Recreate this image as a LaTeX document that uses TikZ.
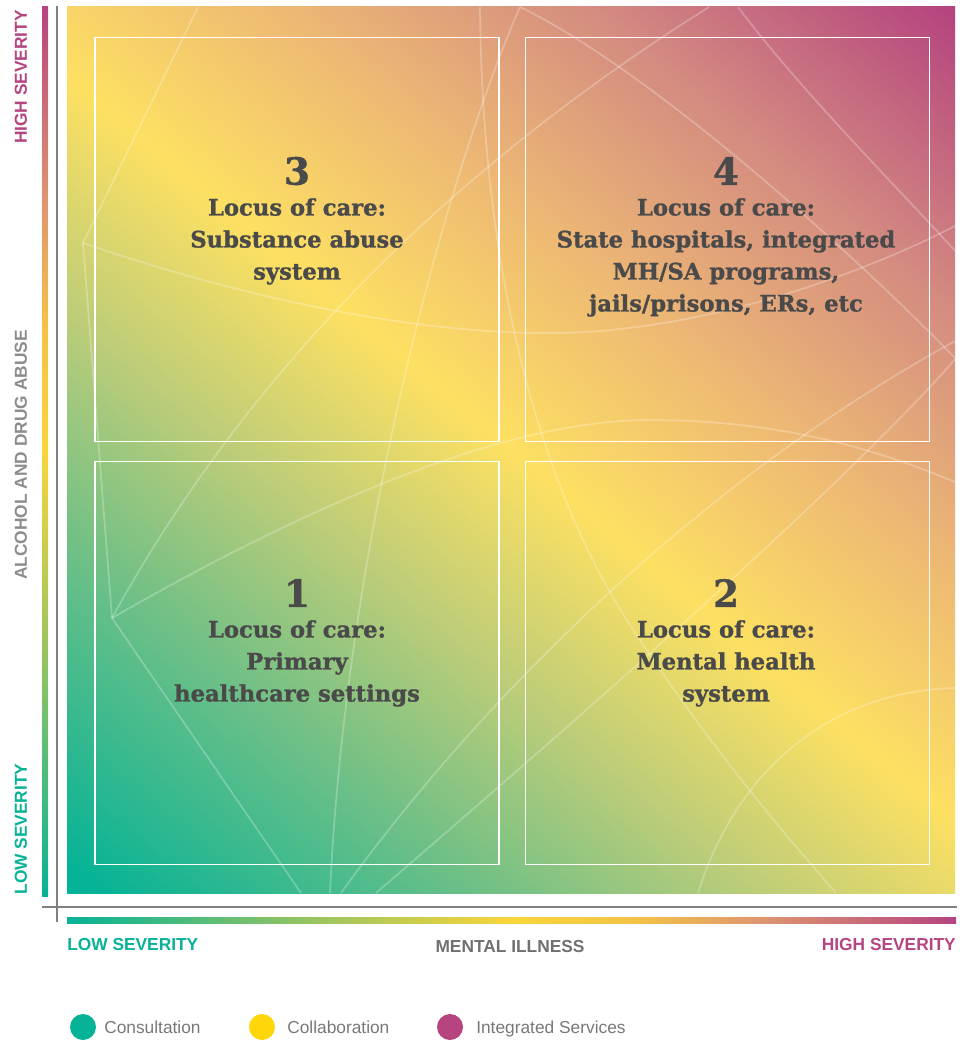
\documentclass[tikz,border=0pt]{standalone}
\usepackage{fontspec}
\setmainfont{Liberation Sans}
\newfontfamily\slabfont[BoldFeatures={FakeBold=1.2}]{DejaVu Serif}
\usetikzlibrary{positioning}

\definecolor{sevteal}{RGB}{6,179,150}
\definecolor{sevgreen}{RGB}{112,192,134}
\definecolor{sevlime}{RGB}{190,205,120}
\definecolor{sevyellow}{RGB}{253,224,98}
\definecolor{sevpeach}{RGB}{237,184,116}
\definecolor{sevrose}{RGB}{212,140,128}
\definecolor{sevmagenta}{RGB}{181,68,127}
\definecolor{barlime}{RGB}{155,196,95}
\definecolor{baryellow}{RGB}{249,213,58}
\definecolor{barorange}{RGB}{244,194,70}
\definecolor{barpeach}{RGB}{222,150,112}
\definecolor{legyellow}{RGB}{255,214,10}
\definecolor{textgrey}{RGB}{74,74,74}
\definecolor{labelgrey}{RGB}{112,112,112}
\definecolor{sidegrey}{RGB}{140,140,140}
\definecolor{axisgrey}{RGB}{128,128,128}
\definecolor{leggrey}{RGB}{120,120,120}

% severity scale: teal -> yellow -> magenta
\pgfdeclareverticalshading{sevsquare}{100bp}{color(0bp)=(sevteal); color(16bp)=(sevteal); color(30bp)=(sevgreen); color(40bp)=(sevlime); color(50bp)=(sevyellow); color(61bp)=(sevpeach); color(72bp)=(sevrose); color(85bp)=(sevmagenta); color(100bp)=(sevmagenta)}
\pgfdeclareverticalshading{sevbarv}{100bp}{color(0bp)=(sevteal); color(25bp)=(sevteal); color(39bp)=(barlime); color(50bp)=(baryellow); color(57bp)=(barorange); color(64bp)=(barpeach); color(75bp)=(sevmagenta); color(100bp)=(sevmagenta)}
\pgfdeclarehorizontalshading{sevbarh}{100bp}{color(0bp)=(sevteal); color(25bp)=(sevteal); color(39bp)=(barlime); color(50bp)=(baryellow); color(57bp)=(barorange); color(64bp)=(barpeach); color(75bp)=(sevmagenta); color(100bp)=(sevmagenta)}

\begin{document}
\begin{tikzpicture}[x=0.75pt,y=0.75pt,yscale=-1,xscale=1,
    quad/.style={draw=white, line width=0.9pt, minimum width=303pt, minimum height=302.5pt, inner sep=0pt},
    quadnum/.style={font=\slabfont\bfseries\fontsize{28}{30}\selectfont, text=textgrey, inner sep=0pt},
    quadtxt/.style={font=\slabfont\bfseries\fontsize{17}{24}\selectfont, text=textgrey, align=center, inner sep=0pt},
    sevlabel/.style={font=\bfseries\fontsize{13}{15}\selectfont, inner sep=0pt},
    deco/.style={white, opacity=0.25, line width=1.3pt},
    legdot/.style={circle, minimum size=19.5pt, inner sep=0pt},
    legtxt/.style={font=\fontsize{13}{15}\selectfont, text=leggrey, inner sep=0pt, anchor=base west}]
        \useasboundingbox (0,0) rectangle (964,1041);
        %Shape: Gradient square
        \shade[shading=sevsquare, shading angle=-40] (67,7) rectangle (955,893);
        %Curves: background strokes
        \begin{scope}
            \clip (67,7) rectangle (955,893);
            \draw[deco] (198,7) -- (83,243) -- (112,618) -- (301,893);
            \draw[deco] (83,243) .. controls (250,300) and (420,335) .. (560,333) .. controls (700,330) and (850,280) .. (957,225);
            \draw[deco] (112,618) .. controls (244,378) and (443,174) .. (709,7);
            \draw[deco] (112,618) .. controls (300,510) and (500,420) .. (650,420) .. controls (780,420) and (880,450) .. (957,483);
            \draw[deco] (520,7) .. controls (440,190) and (345,560) .. (330,893);
            \draw[deco] (341,893) .. controls (480,700) and (700,480) .. (957,340);
            \draw[deco] (376,893) .. controls (600,700) and (850,480) .. (957,357);
            \draw[deco] (480,7) .. controls (482,250) and (530,480) .. (640,640) .. controls (720,760) and (790,840) .. (836,893);
            \draw[deco] (698,893) .. controls (740,760) and (840,690) .. (957,688);
            \draw[deco] (520,7) .. controls (650,70) and (850,250) .. (957,360);
            \draw[deco] (738,7) .. controls (800,90) and (900,190) .. (957,253);
        \end{scope}
        %Shape: Quadrants
        \node[quad] (q3) at (297,239.5) {};
        \node[quad] (q4) at (727.5,239.5) {};
        \node[quad] (q1) at (297,663) {};
        \node[quad] (q2) at (727.5,663) {};
        % Text Node
        \node[quadnum] (n3) at (297,171) {3};
        \node[quadtxt, anchor=north] (t3) at (297,198) {Locus of care:\\Substance abuse\\system};
        % Text Node
        \node[quadnum] (n4) at (726,171) {4};
        \node[quadtxt, anchor=north] (t4) at (726,198) {Locus of care:\\State hospitals, integrated\\MH/SA programs,\\jails/prisons, ERs, etc};
        % Text Node
        \node[quadnum] (n1) at (297,593) {1};
        \node[quadtxt, anchor=north] (t1) at (297,620) {Locus of care:\\Primary\\healthcare settings};
        % Text Node
        \node[quadnum] (n2) at (726,593) {2};
        \node[quadtxt, anchor=north] (t2) at (726,620) {Locus of care:\\Mental health\\system};
        %Shape: Severity bars
        \shade[shading=sevbarv] (42,7) rectangle (48,896);
        \shade[shading=sevbarh] (67,917) rectangle (956,923);
        %Straight Lines: axes
        \draw[axisgrey, line width=0.9pt] (57,6) -- (57,922);
        \draw[axisgrey, line width=0.9pt] (42,907) -- (957,907);
        % Text Node
        \node[sevlabel, text=sevmagenta, rotate=90] (yhigh) at (21,77) {HIGH SEVERITY};
        \node[sevlabel, text=sidegrey, rotate=90] (yname) at (21,455) {ALCOHOL AND DRUG ABUSE};
        \node[sevlabel, text=sevteal, rotate=90] (ylow) at (21,829) {LOW SEVERITY};
        % Text Node
        \node[sevlabel, text=sevteal, anchor=west] (xlow) at (67,945) {LOW SEVERITY};
        \node[sevlabel, text=labelgrey] (xname) at (510,947) {MENTAL ILLNESS};
        \node[sevlabel, text=sevmagenta, anchor=east] (xhigh) at (956,945) {HIGH SEVERITY};
        %Shape: Legend
        \node[legdot, fill=sevteal] (d1) at (83,1027) {};
        \node[legtxt] (l1) at (104,1033) {Consultation};
        \node[legdot, fill=legyellow] (d2) at (262,1027) {};
        \node[legtxt] (l2) at (287,1033) {Collaboration};
        \node[legdot, fill=sevmagenta] (d3) at (450,1027) {};
        \node[legtxt] (l3) at (476,1033) {Integrated Services};
    \end{tikzpicture}
\end{document}
